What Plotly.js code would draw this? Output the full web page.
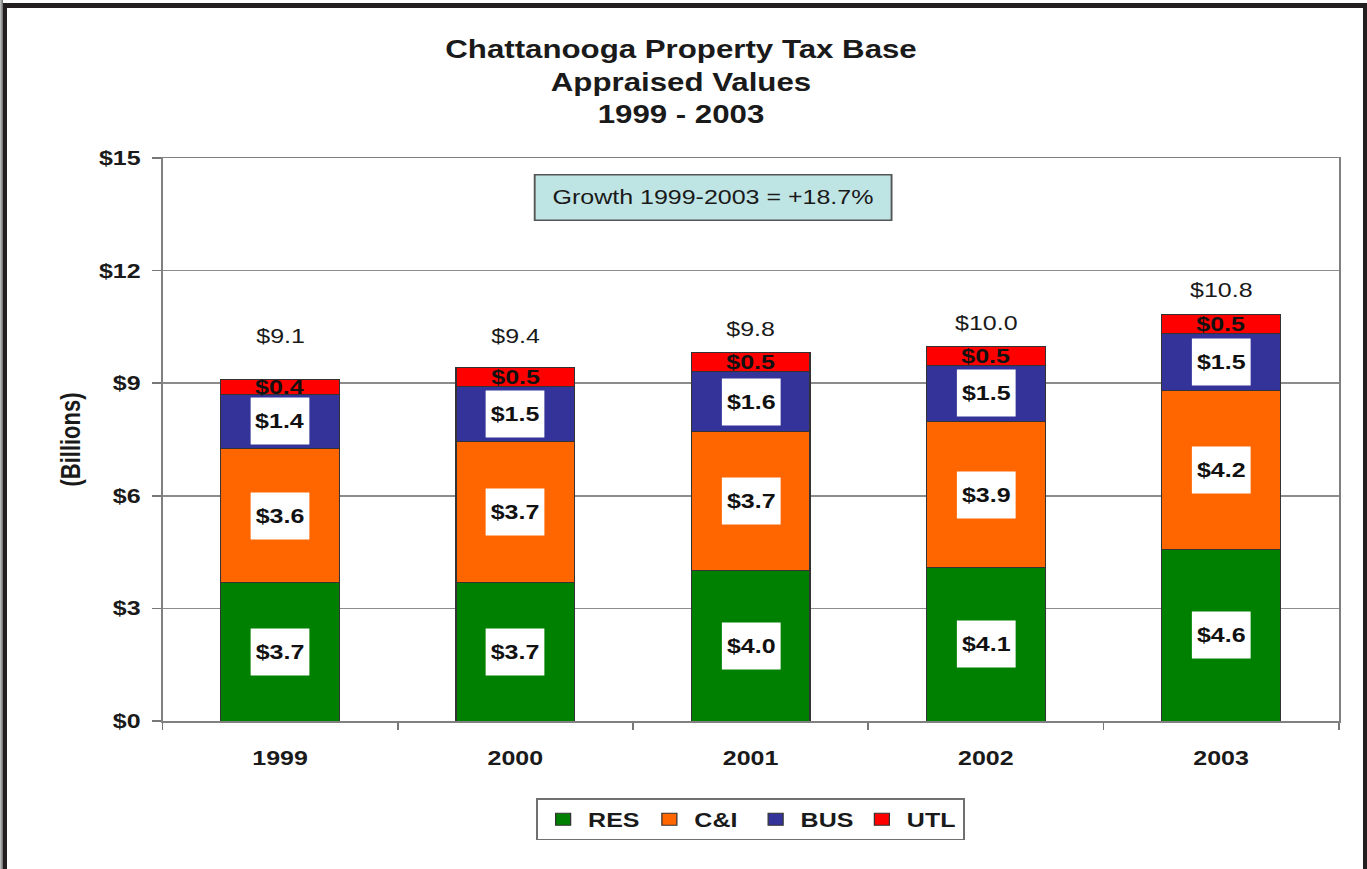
<!DOCTYPE html>
<html>
<head>
<meta charset="utf-8">
<script src="https://cdn.plot.ly/plotly-3.0.1.min.js"></script>
<style>
  html, body { margin: 0; padding: 0; background: #ffffff; overflow: hidden; width: 1367px; height: 869px; }
  #wrap { position: absolute; left: 0; top: 0; width: 1094px; height: 869px; transform: scaleX(1.25); transform-origin: 0 0; }
  #chart { width: 1094px; height: 869px; }
  #frame { position: absolute; left: 0; top: 3px; width: 1356px; height: 865px;
           border-top: 5px solid #231f20; border-left: 7px solid #231f20; border-right: 4px solid #231f20;
           border-bottom: 1px solid #9a9a9a; box-sizing: content-box; pointer-events: none; }
  #edge { position: absolute; left: 0; top: 0; width: 3px; height: 869px; background: linear-gradient(to right, #c8c8c8, #6a6a6a); pointer-events: none; }
</style>
</head>
<body>
<div id="wrap"><div id="chart"></div></div>
<div id="frame"></div>
<div id="edge"></div>
<script>
// ---- data ($ billions) ----
const years = ['1999', '2000', '2001', '2002', '2003'];
const seriesNames = ['RES', 'C&I', 'BUS', 'UTL'];
const res = [3.68, 3.70, 4.00, 4.08, 4.58];
const ci  = [3.59, 3.74, 3.72, 3.90, 4.22];
const bus = [1.44, 1.48, 1.58, 1.50, 1.52];
const utl = [0.40, 0.50, 0.52, 0.50, 0.52];
const growthText = 'Growth 1999-2003 = +18.7%';
const titleText = 'Chattanooga Property Tax Base<br>Appraised Values<br>1999 - 2003';
const yTickVals = [0, 3, 6, 9, 12, 15];

// ---- styles ----
const colors = ['#008000', '#FF6600', '#333399', '#FF0000'];
const FONT = 'Liberation Sans, Arial, sans-serif';
const ink = '#1a1a1a';
const totalLabelShift = [43, 31, 23, 23, 24];

const seriesVals = [res, ci, bus, utl];
const traces = seriesVals.map((vals, i) => ({
  type: 'bar',
  name: seriesNames[i],
  x: years,
  y: vals,
  marker: { color: colors[i], line: { color: '#333333', width: 1 } },
  hoverinfo: 'skip'
}));

const annotations = [];
const totals = years.map((_, j) => seriesVals.reduce((s, v) => s + v[j], 0));

// segment labels (category axis: annotation x is the category index)
years.forEach((yr, j) => {
  let base = 0;
  seriesVals.forEach((vals, i) => {
    const v = vals[j];
    const boxed = i < 3;
    const a = {
      x: j, y: base + v / 2, xref: 'x', yref: 'y',
      text: '$' + v.toFixed(1), showarrow: false,
      font: { family: FONT, size: 20, weight: 700, color: '#111111' },
      xanchor: 'center', yanchor: 'middle'
    };
    if (boxed) {
      a.bgcolor = '#ffffff';
      a.width = 42; a.height = 42; a.borderpad = 2;
    }
    annotations.push(a);
    base += v;
  });
  annotations.push({
    x: j, y: totals[j], xref: 'x', yref: 'y',
    text: '$' + totals[j].toFixed(1), showarrow: false,
    yshift: totalLabelShift[j],
    font: { family: FONT, size: 20, color: ink },
    xanchor: 'center', yanchor: 'middle'
  });
});

annotations.push({
  x: 0.468, y: 0.930, xref: 'paper', yref: 'paper',
  text: growthText, showarrow: false,
  font: { family: FONT, size: 20, color: ink },
  bgcolor: '#bfe4e4', bordercolor: '#555555', borderwidth: 1.5,
  width: 280, height: 40, borderpad: 2,
  xanchor: 'center', yanchor: 'middle'
});

const layout = {
  width: 1094, height: 869, autosize: false,
  margin: { l: 129.6, r: 22.8, t: 158, b: 148, pad: 0 },
  paper_bgcolor: '#ffffff', plot_bgcolor: '#ffffff',
  barmode: 'stack', bargap: 0.495,
  showlegend: true,
  title: {
    text: titleText,
    font: { family: FONT, size: 25, weight: 700, color: ink },
    x: 0.498, xref: 'container', xanchor: 'center',
    y: 0.933, yref: 'container', yanchor: 'top'
  },
  xaxis: {
    type: 'category', range: [-0.5, 4.5], autorange: false,
    tickson: 'boundaries', ticks: 'outside', ticklen: 7, tickwidth: 1.5, tickcolor: '#777777',
    showline: true, linecolor: '#808080', linewidth: 1.5, mirror: true,
    showgrid: false, zeroline: false,
    tickfont: { family: FONT, size: 20, weight: 700, color: ink },
    ticklabelstandoff: 19
  },
  yaxis: {
    range: [0, 15], autorange: false, tickvals: yTickVals, ticktext: yTickVals.map(v => '$' + v),
    ticks: 'outside', ticklen: 7, tickwidth: 1.5, tickcolor: '#777777',
    showline: true, linecolor: '#808080', linewidth: 1.5, mirror: true,
    showgrid: true, gridcolor: '#8c8c8c', gridwidth: 1.5, zeroline: false,
    tickfont: { family: FONT, size: 20, weight: 700, color: ink },
    ticklabelstandoff: 5,
    title: { text: '(Billions)', font: { family: FONT, size: 22, weight: 700, color: ink }, standoff: 8 }
  },
  legend: {
    orientation: 'h', x: 0.5, xanchor: 'center', y: -0.137, yanchor: 'top',
    font: { family: FONT, size: 20, weight: 700, color: ink },
    bordercolor: '#707070', borderwidth: 1.5, bgcolor: '#ffffff',
    traceorder: 'normal', entrywidth: 40, entrywidthmode: 'pixels'
  },
  annotations: annotations
};

Plotly.newPlot('chart', traces, layout, { displayModeBar: false, staticPlot: true });
</script>
</body>
</html>
